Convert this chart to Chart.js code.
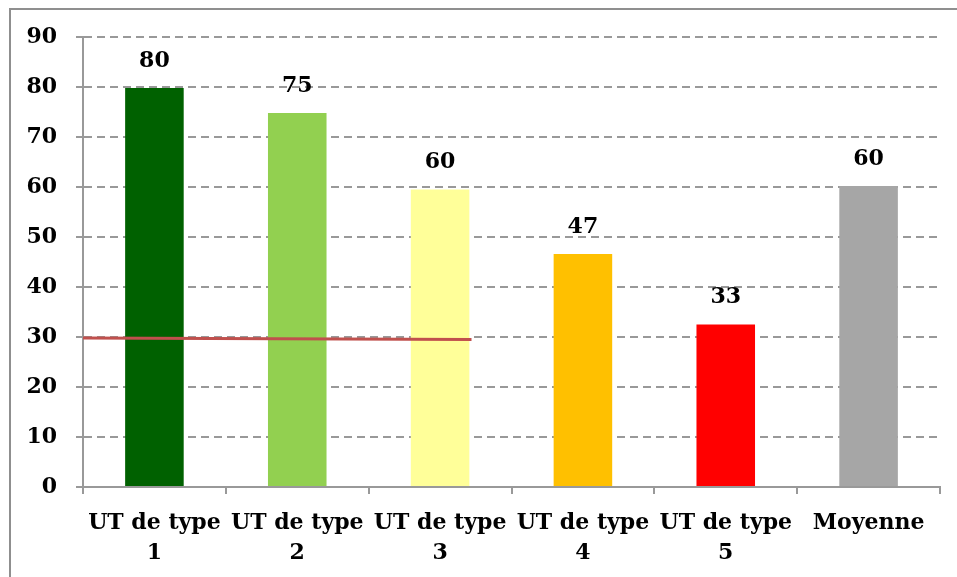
<!DOCTYPE html>
<html>
<head>
<meta charset="utf-8">
<script src="https://cdn.jsdelivr.net/npm/chart.js@4"></script>
<style>
  html, body { margin: 0; padding: 0; background: #fff; }
  #wrap { position: relative; width: 957px; height: 577px; }
  #frame { position: absolute; left: 9px; top: 8px; right: 0; bottom: 0; border-left: 2px solid #8f8f8f; border-top: 2px solid #8f8f8f; }
  canvas { position: absolute; left: 0; top: 0; }
</style>
</head>
<body>
<div id="wrap">
  <div id="frame"></div>
  <canvas id="chart" width="957" height="577"></canvas>
</div>
<script>
const categories = [["UT de type", "1"], ["UT de type", "2"], ["UT de type", "3"], ["UT de type", "4"], ["UT de type", "5"], "Moyenne"];
const values = [79.8, 74.8, 59.5, 46.6, 32.5, 60.2];
const valueLabels = ["80", "75", "60", "47", "33", "60"];
const barColors = ["#006100", "#92D050", "#FFFF99", "#FFC000", "#FF0000", "#A6A6A6"];
const yTicks = [0, 10, 20, 30, 40, 50, 60, 70, 80, 90];
// red reference line, x in category units (0 = left edge)
const refLineX = [0, 2.72];
const refLineY = [29.8, 29.5];

const font = { family: "'DejaVu Serif', serif", weight: "bold", size: 22 };

// draws the value labels above each bar
const barValues = {
  id: "barValues",
  afterDatasetsDraw(chart) {
    const ctx = chart.ctx;
    const meta = chart.getDatasetMeta(0);
    ctx.save();
    ctx.font = "bold 22px 'DejaVu Serif', serif";
    ctx.fillStyle = "#000";
    ctx.textAlign = "center";
    ctx.textBaseline = "middle";
    meta.data.forEach((bar, i) => {
      ctx.fillText(valueLabels[i], bar.x, bar.y - 27);
    });
    ctx.restore();
  },
};

new Chart(document.getElementById("chart"), {
  type: "bar",
  data: {
    labels: categories,
    datasets: [
      {
        data: values,
        backgroundColor: barColors,
        barPercentage: 0.41,
        categoryPercentage: 1,
        grouped: false,
        order: 1,
      },
      {
        type: "line",
        data: refLineX.map((x, i) => ({ x: x, y: refLineY[i] })),
        xAxisID: "x2",
        borderColor: "#C0504D",
        borderWidth: 3,
        pointRadius: 0,
        order: 0,
      },
    ],
  },
  options: {
    responsive: false,
    animation: false,
    layout: { padding: { top: 37, right: 17, left: 0, bottom: 0 } },
    plugins: {
      legend: { display: false },
      tooltip: { enabled: false },
    },
    scales: {
      x: {
        grid: {
          offset: true,
          drawOnChartArea: false,
          drawTicks: true,
          tickLength: 7,
          color: "#999",
          lineWidth: 2,
        },
        border: { color: "#999", width: 2 },
        ticks: {
          color: "#000",
          font: { ...font, lineHeight: 1.36 },
          padding: 14,
          maxRotation: 0,
          autoSkip: false,
        },
        afterFit(scale) { scale.height = 90; },
      },
      x2: {
        type: "linear",
        display: false,
        offset: false,
        min: 0,
        max: 6,
      },
      y: {
        min: 0,
        max: 90,
        afterBuildTicks(scale) { scale.ticks = yTicks.map(v => ({ value: v })); },
        grid: {
          color: "#999",
          lineWidth: 2,
          tickLength: 7,
          tickBorderDash: [],
        },
        border: { color: "#999", width: 2, dash: [8, 5] },
        ticks: {
          color: "#000",
          font: font,
          padding: 19,
        },
        afterFit(scale) { scale.width = 83; },
      },
    },
  },
  plugins: [barValues],
});
</script>
</body>
</html>
